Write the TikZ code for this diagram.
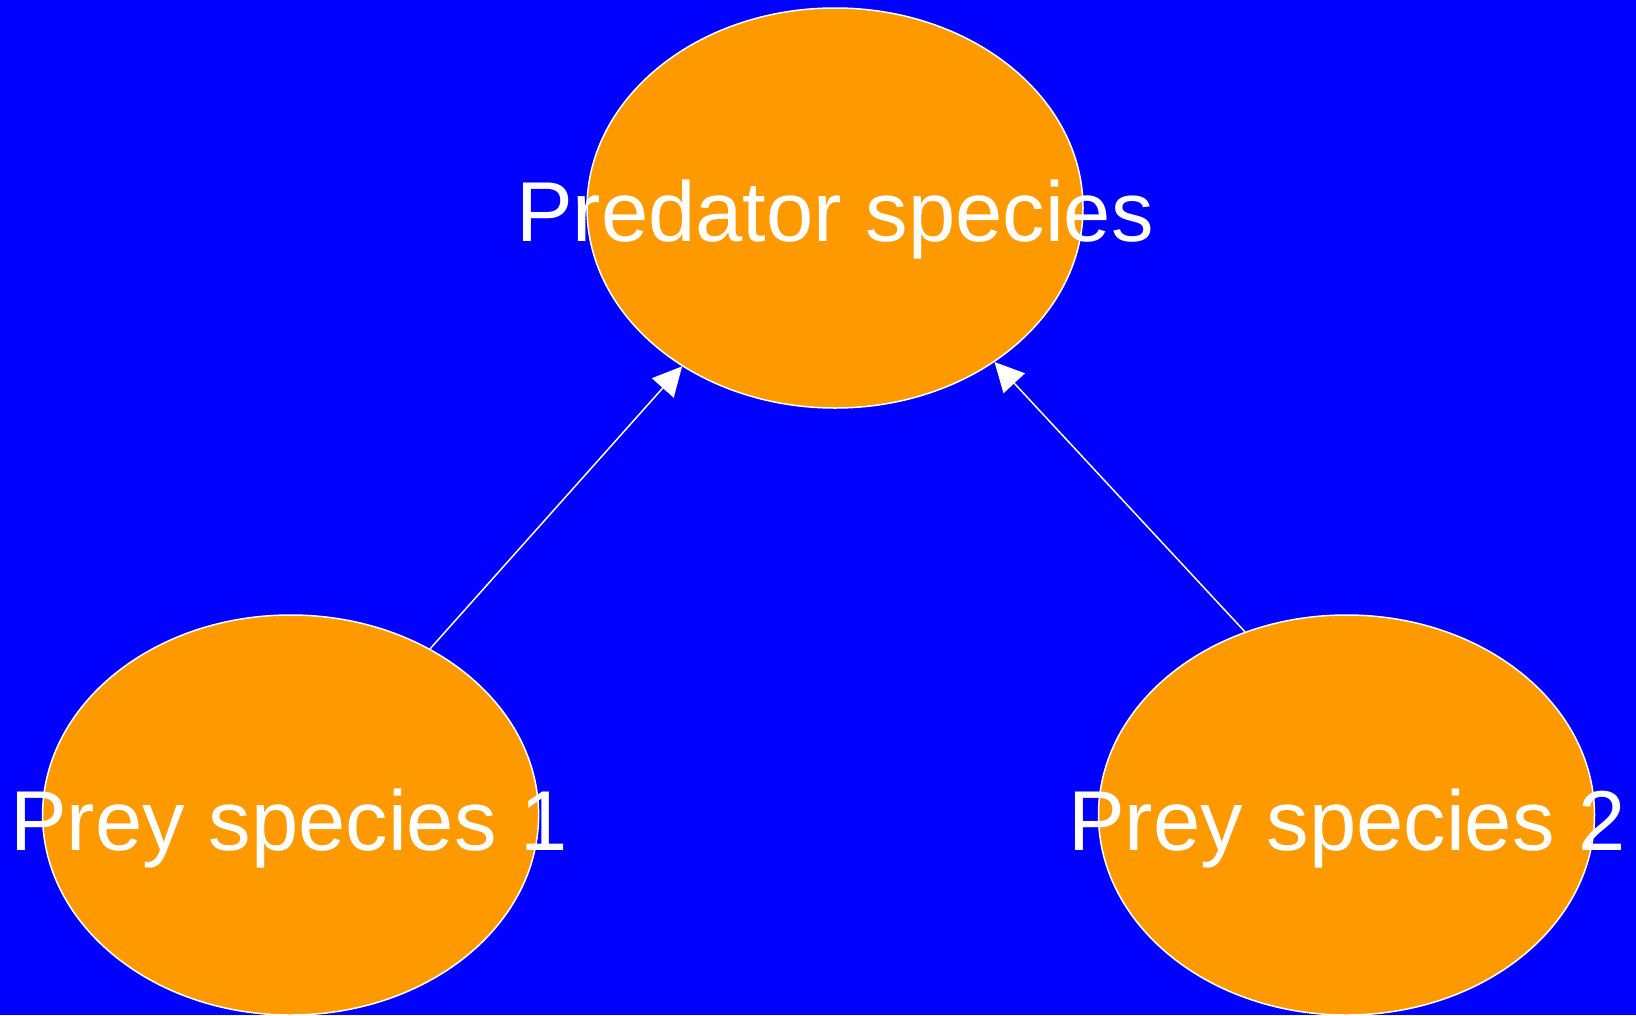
\documentclass[tikz,border=0pt]{standalone}
\usepackage{fontspec}
\setmainfont{Liberation Sans}
\usetikzlibrary{shapes.geometric,arrows.meta}
\definecolor{bg}{HTML}{0000FF}
\definecolor{nodeorange}{HTML}{FF9900}
\tikzset{
  species/.style={ellipse, draw=white, line width=1.5pt, fill=nodeorange, minimum width=496pt, minimum height=400pt, inner sep=0pt},
  lbl/.style={text=white, font=\fontsize{85}{100}\selectfont, inner sep=0pt, anchor=base},
  link/.style={draw=white, line width=1.5pt, -{Triangle[length=29pt,width=29pt]}}
}
\begin{document}
\begin{tikzpicture}[x=1pt,y=-1pt]
\fill[bg] (0,0) rectangle (1636,1015);
\useasboundingbox (0,0) rectangle (1636,1015);
\node[species] (pred) at (835,208) {};
\node[species] (prey1) at (290.6,815) {};
\node[species] (prey2) at (1346.5,815) {};
\draw[link] (prey1.50.6) -- (pred.226.3);
\draw[link] (prey2.119.3) -- (pred.316.3);
\node[lbl] (tpred) at (835,241) {Predator species};
\node[lbl] (tprey1) at (289,850) {Prey species 1};
\node[lbl] (tprey2) at (1347,850) {Prey species 2};
\end{tikzpicture}
\end{document}
